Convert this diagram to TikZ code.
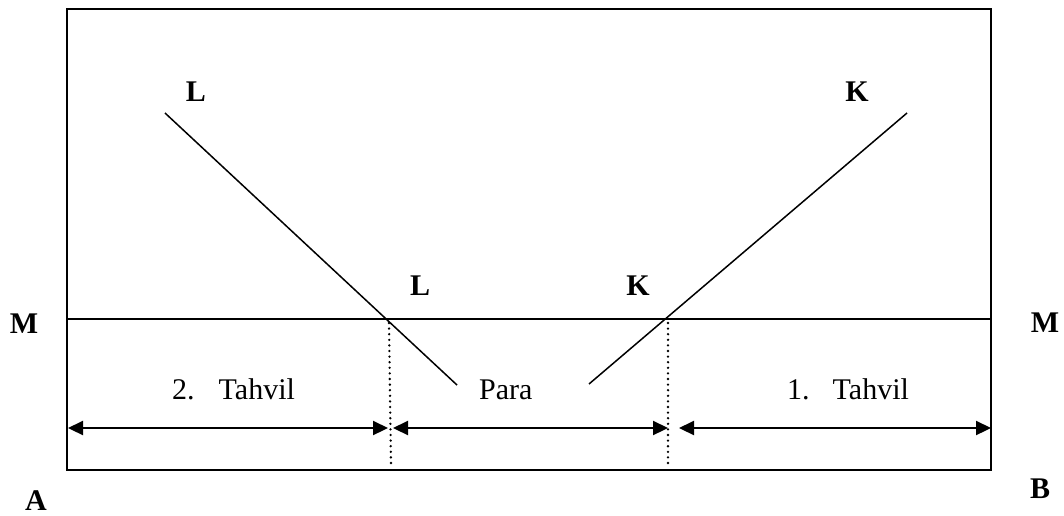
\documentclass[tikz,border=0pt]{standalone}
\usepackage{fontspec}
\setmainfont{Liberation Serif}
\usetikzlibrary{arrows.meta}
\begin{document}
\begin{tikzpicture}[x=1pt,y=-1pt,
  txt/.style={inner sep=0pt,anchor=base,font=\fontsize{30}{36}\selectfont},
  btxt/.style={txt,font=\fontsize{30}{36}\selectfont\bfseries},
  thin line/.style={line width=1.5pt},
  frame/.style={line width=2pt},
  guide/.style={line width=2.6pt,line cap=round,dash pattern=on 0pt off 5.6pt},
  dim/.style={line width=2.2pt,{Triangle[length=15pt,width=14pt]}-{Triangle[length=15pt,width=14pt]}}]
\useasboundingbox (0,0) rectangle (1064,515);
% frame
\draw[frame] (67,9) rectangle (991,470);
% coordinates
\coordinate (M1) at (67,319);
\coordinate (M2) at (991,319);
\coordinate (Ltop) at (165,113);
\coordinate (Lbot) at (457,385);
\coordinate (Ktop) at (907,113);
\coordinate (Kbot) at (589,384);
\coordinate (D1a) at (389,323);
\coordinate (D1b) at (391,466);
\coordinate (D2a) at (668,323);
\coordinate (D2b) at (668,466);
\coordinate (A1a) at (68,428);
\coordinate (A1b) at (388,428);
\coordinate (A2a) at (393,428);
\coordinate (A2b) at (668,428);
\coordinate (A3a) at (679,428);
\coordinate (A3b) at (991,428);
% lines
\draw[thin line] (M1) -- (M2);
\draw[thin line] (Ltop) -- (Lbot);
\draw[thin line] (Ktop) -- (Kbot);
\draw[guide] (D1a) -- (D1b);
\draw[guide] (D2a) -- (D2b);
\draw[dim] (A1a) -- (A1b);
\draw[dim] (A2a) -- (A2b);
\draw[dim] (A3a) -- (A3b);
% labels
\node[btxt] (lL1) at (196,101) {L};
\node[btxt] (lK1) at (857,101) {K};
\node[btxt] (lL2) at (420,295) {L};
\node[btxt] (lK2) at (638,295) {K};
\node[btxt] (lM1) at (24,333) {M};
\node[btxt] (lM2) at (1045,332) {M};
\node[btxt] (lA) at (36,510) {A};
\node[btxt] (lB) at (1040,498) {B};
\node[txt,anchor=base west] (t2) at (172,399) {2.\hspace{24pt}Tahvil};
\node[txt,anchor=base west] (tp) at (479,399) {Para};
\node[txt,anchor=base west] (t1) at (787,399) {1.\hspace{23pt}Tahvil};
\end{tikzpicture}
\end{document}
